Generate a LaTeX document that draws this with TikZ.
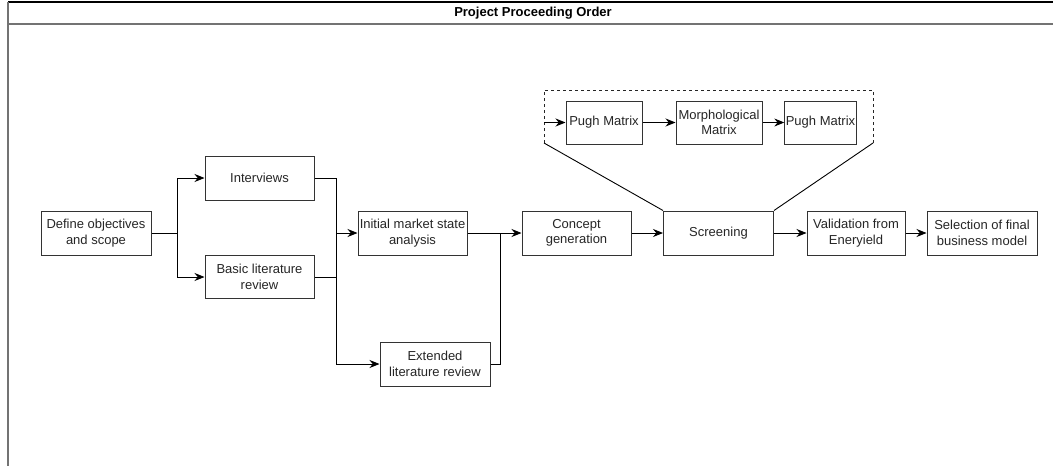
\documentclass[tikz,border=0pt]{standalone}
\usepackage{fontspec}
\setmainfont{Liberation Sans}
\usetikzlibrary{arrows.meta}
\begin{document}
\begin{tikzpicture}[x=1pt,y=-1pt,
  every node/.style={font=\fontsize{13}{15.5}\selectfont, text=black!85},
  box/.style={draw=black!80, line width=1pt, fill=white, minimum height=44pt,
    align=center, inner sep=1pt},
  link/.style={draw=black, line width=0.9pt},
  arr/.style={link, -{Stealth[length=10pt,width=8pt]}}]
\useasboundingbox (0,0) rectangle (1053,466);
% frame and title band
\draw[line width=1.2pt] (8,2) -- (1053,2);
\draw[black!55, line width=1.6pt] (8,24) -- (1053,24);
\draw[black!55, line width=1.2pt] (8,2) -- (8,466);
\node[font=\bfseries\fontsize{13}{15.5}\selectfont, text=black] (title) at (533,13) {Project Proceeding Order};

% main process
\node[box, minimum width=110pt] (def) at (96,233) {Define objectives\\and scope};
\node[box, minimum width=109pt] (int) at (259.5,178) {Interviews};
\node[box, minimum width=109pt, minimum height=43pt] (blr) at (259.5,277) {Basic literature\\review};
\node[box, minimum width=109pt] (ima) at (412.5,233) {Initial market state\\analysis};
\node[box, minimum width=110pt] (elr) at (435,364) {Extended\\literature review};
\node[box, minimum width=109pt] (cg) at (576.5,233) {Concept\\generation};
\node[box, minimum width=110pt] (scr) at (718.5,233) {Screening};
\node[box, minimum width=98pt] (val) at (856,233) {Validation from\\Eneryield};
\node[box, minimum width=110pt] (sel) at (982,233) {Selection of final\\business model};

% screening detail
\coordinate (cl) at (544,143);
\coordinate (cr) at (873,143);
\draw[black!85, line width=0.9pt, dashed, dash pattern=on 3pt off 3pt] (cl) -- (544,90) -- (873,90) -- (cr);
\node[box, minimum width=76pt, minimum height=43pt] (pm1) at (604,122.5) {Pugh Matrix};
\node[box, minimum width=86pt, minimum height=43pt] (mm) at (719,122.5) {Morphological\\Matrix};
\node[box, minimum width=71pt, minimum height=43pt] (pm2) at (820.5,122.5) {Pugh Matrix};
\draw[link] (cl) -- (scr.north west);
\draw[link] (cr) -- (scr.north east);
\coordinate (pin) at (544,122.5);
\draw[arr] (pin) -- (pm1);
\draw[arr] (pm1) -- (mm);
\draw[arr] (mm) -- (pm2);

% connectors
\coordinate (s1) at (177,233);
\coordinate (j1) at (336,233);
\coordinate (j2) at (500,233);
\draw[link] (def.east) -- (s1);
\draw[arr] (s1) |- (int.west);
\draw[arr] (s1) |- (blr.west);
\draw[link] (int.east) -| (j1);
\draw[arr] (j1) -- (ima.west);
\draw[link] (blr.east) -| (336,277);
\draw[arr] (j1) |- (elr.west);
\draw[arr] (ima.east) -- (cg.west);
\draw[link] (elr.east) -| (j2);
\draw[arr] (cg.east) -- (scr.west);
\draw[arr] (scr.east) -- (val.west);
\draw[arr] (val.east) -- (sel.west);
\end{tikzpicture}
\end{document}
